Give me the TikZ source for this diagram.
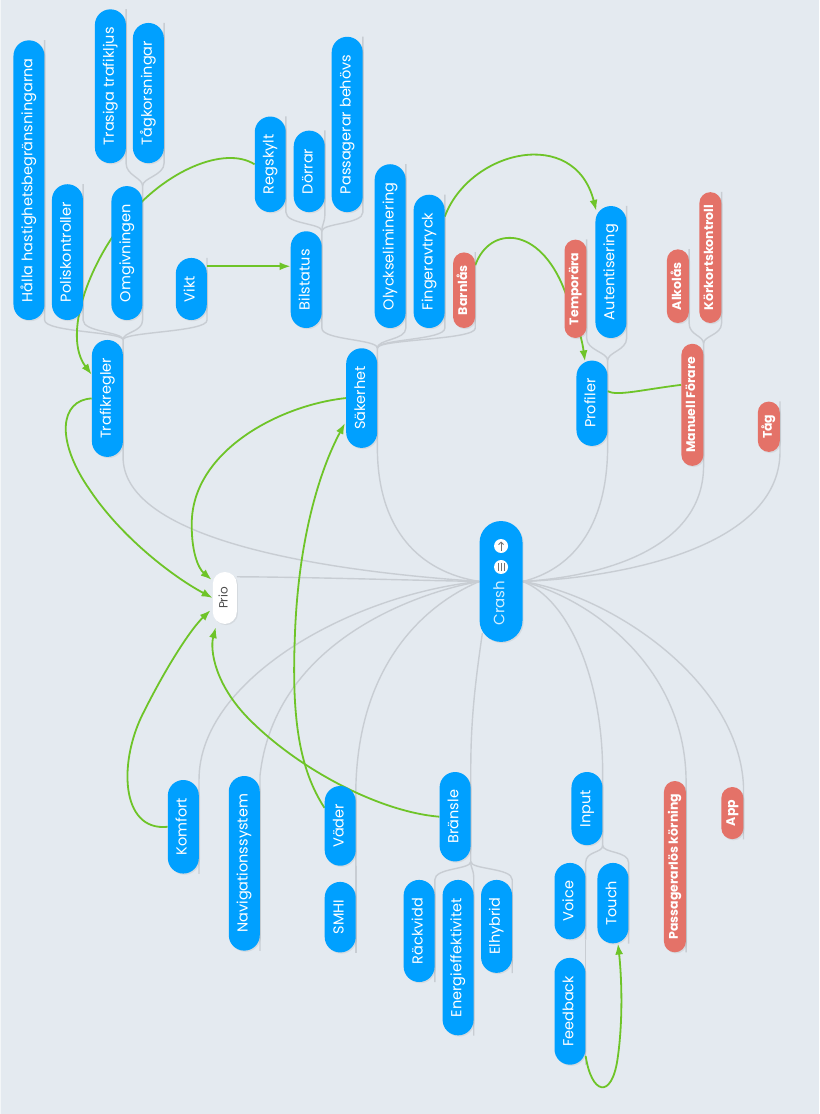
\documentclass[tikz,border=0pt]{standalone}
\usepackage{fontspec}
\setmainfont{Poppins}
\usepackage{tikz}
\usetikzlibrary{arrows.meta,positioning,backgrounds,calc,shadows}

\definecolor{bgblue}{RGB}{228,234,240}
\definecolor{pillblue}{RGB}{0,160,255}
\definecolor{tagred}{RGB}{228,114,104}
\definecolor{linkgreen}{RGB}{110,196,40}
\definecolor{branchgray}{RGB}{200,205,211}

\newcommand{\vtext}[1]{\rotatebox{90}{\strut #1}}

\begin{document}
\begin{tikzpicture}[
    x=1pt, y=1pt,
    >={Latex[length=11pt,width=8pt]},
    font=\fontsize{14.5}{17}\selectfont,
    topic/.style={
		rectangle,
		rounded corners=15.5pt,
		fill=pillblue,
		text=white,
		minimum width=31pt,
		inner xsep=0pt,
		inner ysep=18pt,
		drop shadow={shadow xshift=1.2pt, shadow yshift=-1.2pt, opacity=0.15}
	},
	tagnode/.style={
		topic,
		fill=tagred,
		minimum width=22pt,
		rounded corners=11pt,
		inner ysep=13pt,
		font=\bfseries\fontsize{12.5}{14}\selectfont
	},
	branch/.style={
		draw=branchgray,
		line width=1.4pt
	},
	link/.style={
		draw=linkgreen,
		line width=1.8pt,
		->
	}
  ]
    % root and floating node
  \node [topic, minimum width=43pt, minimum height=121pt, rounded corners=21.5pt, inner sep=0pt] (crash) at (501.5,-581.5) {};
  \node [text=white!82!pillblue, inner sep=0pt, font=\fontsize{15}{17}\selectfont] (crashtext) at (501.5,-603) {\vtext{Crash}};
  \node [circle, fill=white, minimum size=14pt, inner sep=0pt] (menuicon) at (501.5,-567) {};
  \node [circle, fill=white, minimum size=14pt, inner sep=0pt] (upicon) at (501.5,-546) {};
  \draw [black!55, line width=0.9pt] ([xshift=-3pt,yshift=4pt]menuicon.center) -- ++(0,-8pt)
        ([yshift=4pt]menuicon.center) -- ++(0,-8pt)
        ([xshift=3pt,yshift=4pt]menuicon.center) -- ++(0,-8pt);
  \draw [black!55, line width=0.9pt, -{Straight Barb[length=2.5pt,width=5pt]}] ([yshift=-4.5pt]upicon.center) -- ([yshift=4.5pt]upicon.center);

  \node [topic, fill=white, text=black!70, minimum width=24pt, minimum height=52pt, rounded corners=12pt, inner ysep=10pt, font=\fontsize{12}{14}\selectfont] (prio) at (225,-598) {\vtext{Prio}};

    % upper half
  \node [topic, anchor=south] (trafikregler) at (107.5,-457) {\vtext{Trafikregler}};
  \node [topic, anchor=south] (halla) at (29,-320) {\vtext{Hålla hastighetsbegränsningarna}};
  \node [topic, anchor=south] (polis) at (67.5,-320) {\vtext{Poliskontroller}};
  \node [topic, anchor=south] (omgiv) at (127,-320) {\vtext{Omgivningen}};
  \node [topic, anchor=south] (vikt) at (191.5,-320) {\vtext{Vikt}};
  \node [topic, anchor=south] (trasiga) at (110.5,-163) {\vtext{Trasiga trafikljus}};
  \node [topic, anchor=south] (tagkors) at (148.5,-163) {\vtext{Tågkorsningar}};

  \node [topic, anchor=south] (sakerhet) at (362,-448) {\vtext{Säkerhet}};
  \node [topic, anchor=south] (bilstatus) at (306.5,-328) {\vtext{Bilstatus}};
  \node [topic, anchor=south] (olycks) at (390.5,-328) {\vtext{Olyckseliminering}};
  \node [topic, anchor=south] (finger) at (429.5,-328) {\vtext{Fingeravtryck}};
  \node [tagnode, anchor=south] (barnlas) at (464.5,-328) {\vtext{Barnlås}};
  \node [topic, anchor=south] (regskylt) at (270.5,-212) {\vtext{Regskylt}};
  \node [topic, anchor=south] (dorrar) at (309.5,-212) {\vtext{Dörrar}};
  \node [topic, anchor=south] (passbehov) at (347.5,-212) {\vtext{Passagerar behövs}};

  \node [topic, anchor=south] (profiler) at (592.5,-446) {\vtext{Profiler}};
  \node [tagnode, anchor=south] (temporara) at (576,-338) {\vtext{Temporära}};
  \node [topic, anchor=south] (autent) at (611.5,-338) {\vtext{Autentisering}};

  \node [tagnode, anchor=south] (manuell) at (693,-466) {\vtext{Manuell Förare}};
  \node [tagnode, anchor=south] (alkolas) at (678.5,-323) {\vtext{Alkolås}};
  \node [tagnode, anchor=south] (korkort) at (711,-323) {\vtext{Körkortskontroll}};
  \node [tagnode, anchor=south] (tag) at (769.5,-452) {\vtext{Tåg}};

    % lower half
  \node [topic, anchor=north] (komfort) at (183.5,-780) {\vtext{Komfort}};
  \node [topic, anchor=north] (nav) at (244.5,-776) {\vtext{Navigationssystem}};
  \node [topic, anchor=north] (vader) at (340.5,-786) {\vtext{Väder}};
  \node [topic, anchor=north] (smhi) at (340.5,-882) {\vtext{SMHI}};
  \node [topic, anchor=north] (bransle) at (455.5,-772) {\vtext{Bränsle}};
  \node [topic, anchor=north] (rackvidd) at (419.5,-880) {\vtext{Räckvidd}};
  \node [topic, anchor=north] (energi) at (458.5,-880) {\vtext{Energieffektivitet}};
  \node [topic, anchor=north] (elhybrid) at (497,-880) {\vtext{Elhybrid}};
  \node [topic, anchor=north] (input) at (587.5,-772) {\vtext{Input}};
  \node [topic, anchor=north] (voice) at (570.5,-863) {\vtext{Voice}};
  \node [topic, anchor=north] (touch) at (613.5,-863) {\vtext{Touch}};
  \node [topic, anchor=north] (feedback) at (570.5,-958) {\vtext{Feedback}};
  \node [tagnode, anchor=north] (passlos) at (675.5,-781) {\vtext{Passagerarlös körning}};
  \node [tagnode, anchor=north] (app) at (733,-787) {\vtext{App}};

  \begin{scope}[on background layer]
  \fill [bgblue] (0,0) rectangle (820,-1114);
  \draw [white!55!bgblue, line width=1pt] (0.5,0) -- (0.5,-1114);

    % tree lines from the root
  \draw [branch] (crash.west) .. controls (280,-568) and (123,-530) .. (trafikregler.south east) -- (trafikregler.north east);
  \draw [branch] (crash.west) .. controls (420,-572) and (378,-530) .. (sakerhet.south east) -- (sakerhet.north east);
  \draw [branch] (crash.east) .. controls (570,-570) and (608,-530) .. (profiler.south east) -- (profiler.north east);
  \draw [branch] (crash.east) .. controls (600,-577) and (704,-550) .. (manuell.south east) -- (manuell.north east);
  \draw [branch] (crash.east) .. controls (620,-578) and (780,-548) .. (tag.south east) -- (tag.north east);
  \draw [branch] (crash.west) .. controls (400,-580) and (300,-577) .. ($(prio.north east)+(0,-5)$);
  \draw [branch] (crash.west) .. controls (350,-595) and (199,-680) .. (komfort.north east) -- (komfort.south east);
  \draw [branch] (crash.west) .. controls (420,-592) and (275,-640) .. (nav.north east) -- (nav.south east);
  \draw [branch] (crash.west) .. controls (440,-598) and (360,-650) .. (vader.north east) -- (vader.south east);
  \draw [branch] ($(crash.south west)+(3,9)$) .. controls (476,-680) and (471,-720) .. (bransle.north east) -- (bransle.south east);
  \draw [branch] (crash.east) .. controls (570,-600) and (603,-680) .. (input.north east) -- (input.south east);
  \draw [branch] (crash.east) .. controls (595,-600) and (686,-670) .. (passlos.north east) -- (passlos.south east);
  \draw [branch] (crash.east) .. controls (610,-595) and (740,-680) .. (app.north east) -- (app.south east);

    % sub branches
  \draw [branch] (trafikregler.north east) .. controls +(0,8) and +(0,-12) .. (halla.south east) -- (halla.north east);
  \draw [branch] (trafikregler.north east) .. controls +(0,8) and +(0,-12) .. (polis.south east) -- (polis.north east);
  \draw [branch] (trafikregler.north east) .. controls +(0,8) and +(0,-12) .. (omgiv.south east) -- (omgiv.north east);
  \draw [branch] (trafikregler.north east) .. controls +(0,8) and +(0,-12) .. (vikt.south east) -- (vikt.north east);
  \draw [branch] (omgiv.north east) .. controls +(0,8) and +(0,-12) .. (trasiga.south east) -- (trasiga.north east);
  \draw [branch] (omgiv.north east) .. controls +(0,8) and +(0,-12) .. (tagkors.south east) -- (tagkors.north east);
  \draw [branch] (sakerhet.north east) .. controls +(0,9) and +(0,-12) .. (bilstatus.south east) -- (bilstatus.north east);
  \draw [branch] (sakerhet.north east) .. controls +(0,9) and +(0,-12) .. (olycks.south east) -- (olycks.north east);
  \draw [branch] (sakerhet.north east) .. controls +(0,9) and +(0,-12) .. (finger.south east) -- (finger.north east);
  \draw [branch] (sakerhet.north east) .. controls +(0,9) and +(0,-12) .. (barnlas.south east) -- (barnlas.north east);
  \draw [branch] (bilstatus.north east) .. controls +(0,8) and +(0,-12) .. (regskylt.south east) -- (regskylt.north east);
  \draw [branch] (bilstatus.north east) .. controls +(0,8) and +(0,-12) .. (dorrar.south east) -- (dorrar.north east);
  \draw [branch] (bilstatus.north east) .. controls +(0,8) and +(0,-12) .. (passbehov.south east) -- (passbehov.north east);
  \draw [branch] (profiler.north east) .. controls +(0,8) and +(0,-12) .. (temporara.south east) -- (temporara.north east);
  \draw [branch] (profiler.north east) .. controls +(0,8) and +(0,-12) .. (autent.south east) -- (autent.north east);
  \draw [branch] (manuell.north east) .. controls +(0,8) and +(0,-12) .. (alkolas.south east) -- (alkolas.north east);
  \draw [branch] (manuell.north east) .. controls +(0,8) and +(0,-12) .. (korkort.south east) -- (korkort.north east);
  \draw [branch] (vader.south east) -- (smhi.north east) -- (smhi.south east);
  \draw [branch] (bransle.south east) .. controls +(0,-8) and +(0,12) .. (rackvidd.north east) -- (rackvidd.south east);
  \draw [branch] (bransle.south east) .. controls +(0,-8) and +(0,12) .. (energi.north east) -- (energi.south east);
  \draw [branch] (bransle.south east) .. controls +(0,-8) and +(0,12) .. (elhybrid.north east) -- (elhybrid.south east);
  \draw [branch] (input.south east) .. controls +(0,-8) and +(0,12) .. (voice.north east) -- (voice.south east);
  \draw [branch] (input.south east) .. controls +(0,-8) and +(0,12) .. (touch.north east) -- (touch.south east);
  \draw [branch] (voice.south east) -- (feedback.north east) -- (feedback.south east);

    % green relations
  \draw [link] (regskylt.west) .. controls (225,-145) and (165,-170) .. (125,-220) .. controls (90,-262) and (62,-335) .. ($(trafikregler.north west)+(0,-35)$);
  \draw [link] (vikt.east |- 0,-266) -- (bilstatus.west |- 0,-266);
  \draw [link] ($(finger.north east)+(0,-22)$) .. controls (470,-150) and (575,-125) .. ($(autent.north west)+(1,-5)$);
  \draw [link] ($(barnlas.north east)+(0,-13)$) .. controls (490,-225) and (540,-225) .. (565,-290) .. controls (575,-315) and (582,-335) .. ($(profiler.north)+(-7,-1)$);
  \draw [draw=linkgreen, line width=1.8pt] ($(profiler.east)+(0,12)$) .. controls (618,-396) and (640,-390) .. ($(manuell.west)+(0,20)$);
  \draw [link] (trafikregler.west) .. controls (60,-400) and (55,-440) .. (90,-490) .. controls (120,-535) and (170,-575) .. (prio.west);
  \draw [link] (sakerhet.west) .. controls (280,-405) and (195,-450) .. (192,-520) .. controls (191,-550) and (198,-568) .. ($(prio.north west)+(-1,-8)$);
  \draw [link] ($(vader.west)+(0,18)$) .. controls (300,-770) and (292,-720) .. (295,-640) .. controls (298,-540) and (320,-470) .. ($(sakerhet.west)+(-1,-25)$);
  \draw [link] (komfort.west) .. controls (120,-832) and (118,-760) .. (145,-710) .. controls (165,-670) and (190,-630) .. ($(prio.south west)+(-2,14)$);
  \draw [link] (bransle.west) .. controls (380,-812) and (300,-770) .. (250,-720) .. controls (215,-685) and (210,-650) .. ($(prio.south)+(-9,-3)$);
  \draw [link] ($(feedback.south east)+(0,9)$) .. controls (592,-1095) and (612,-1100) .. (618,-1060) .. controls (624,-1020) and (622,-975) .. ($(touch.south)+(5,0)$);
  \end{scope}

  \useasboundingbox (0,0) rectangle (820,-1114);
\end{tikzpicture}
\end{document}
